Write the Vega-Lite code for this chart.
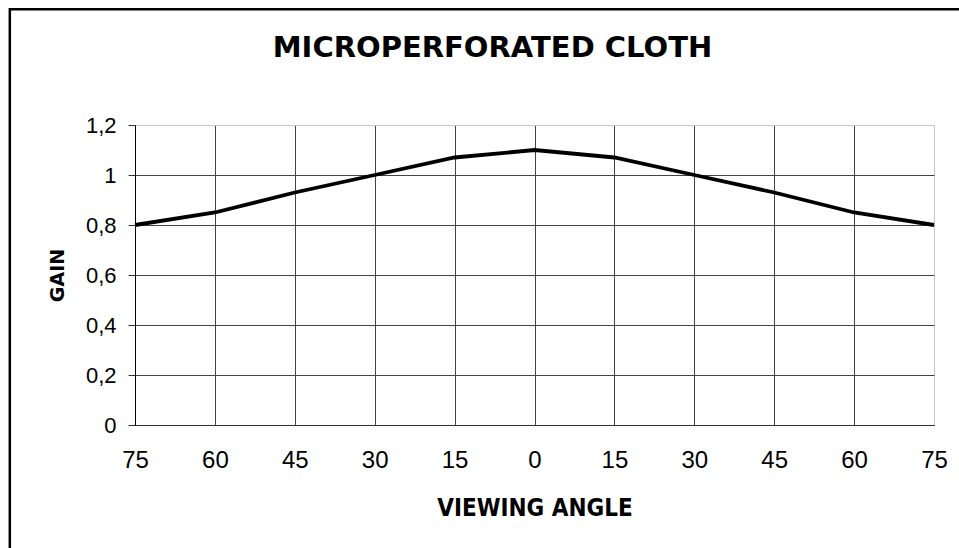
{
  "$schema": "https://vega.github.io/schema/vega-lite/v6.json",
  "width": 799,
  "height": 300,
  "autosize": {"type": "none"},
  "padding": {"left": 135, "top": 125, "right": 25, "bottom": 123},
  "background": "white",
  "config": {
    "locale": {"number": {"decimal": ",", "thousands": ".", "grouping": [3], "currency": ["", " €"]}},
    "view": {"stroke": "#c8c8c8", "strokeWidth": 1}
  },
  "title": {
    "text": "MICROPERFORATED CLOTH",
    "font": "DejaVu Sans",
    "fontWeight": "bold",
    "fontSize": 29,
    "color": "black",
    "anchor": "middle",
    "frame": "group",
    "dx": -42,
    "baseline": "alphabetic",
    "offset": -78
  },
  "layer": [
    {
      "data": {"values": [
        {"angle": -75, "gain": 0.80},
        {"angle": -60, "gain": 0.85},
        {"angle": -45, "gain": 0.93},
        {"angle": -30, "gain": 1.00},
        {"angle": -15, "gain": 1.07},
        {"angle": 0, "gain": 1.10},
        {"angle": 15, "gain": 1.07},
        {"angle": 30, "gain": 1.00},
        {"angle": 45, "gain": 0.93},
        {"angle": 60, "gain": 0.85},
        {"angle": 75, "gain": 0.80}
      ]},
      "mark": {"type": "line", "color": "black", "strokeWidth": 3.8},
      "encoding": {
        "x": {
          "field": "angle",
          "type": "quantitative",
          "scale": {"domain": [-75, 75], "nice": false, "zero": false},
          "axis": {
            "values": [-75, -60, -45, -30, -15, 0, 15, 30, 45, 60, 75],
            "labelExpr": "abs(datum.value)",
            "ticks": false,
            "domainColor": "#333333",
            "domainWidth": 1,
            "labelFont": "Liberation Sans",
            "labelFontSize": 24,
            "labelColor": "black",
            "labelPadding": 23,
            "labelFlush": false,
            "grid": true,
            "gridColor": {"condition": {"test": "datum.value === 75", "value": "#c8c8c8"}, "value": "#444444"},
            "gridWidth": 1,
            "gridOpacity": 1,
            "title": "VIEWING ANGLE",
            "titleFont": "DejaVu Sans Condensed",
            "titleFontWeight": "bold",
            "titleFontSize": 24,
            "titleColor": "black",
            "titlePadding": 24
          }
        },
        "y": {
          "field": "gain",
          "type": "quantitative",
          "scale": {"domain": [0, 1.2], "nice": false, "zero": true},
          "axis": {
            "values": [0, 0.2, 0.4, 0.6, 0.8, 1, 1.2],
            "format": "~g",
            "tickSize": 7,
            "tickColor": "#333333",
            "domainColor": "black",
            "domainWidth": 1,
            "labelFont": "Liberation Sans",
            "labelFontSize": 22,
            "labelColor": "black",
            "labelPadding": 12,
            "labelFlush": false,
            "grid": true,
            "gridColor": {"condition": {"test": "datum.value === 1.2", "value": "#c8c8c8"}, "value": "#444444"},
            "gridWidth": 1,
            "gridOpacity": 1,
            "title": "GAIN",
            "titleFont": "DejaVu Sans",
            "titleFontWeight": "bold",
            "titleFontSize": 19,
            "titleColor": "black",
            "titlePadding": 18
          }
        }
      }
    },
    {
      "data": {"values": [{"name": "frame"}]},
      "mark": {"type": "rect", "fill": "transparent", "stroke": "black", "strokeWidth": 2.5},
      "encoding": {
        "x": {"datum": -98.5, "type": "quantitative"},
        "x2": {"datum": 100},
        "y": {"datum": 1.663, "type": "quantitative"},
        "y2": {"datum": -0.6}
      }
    }
  ]
}
